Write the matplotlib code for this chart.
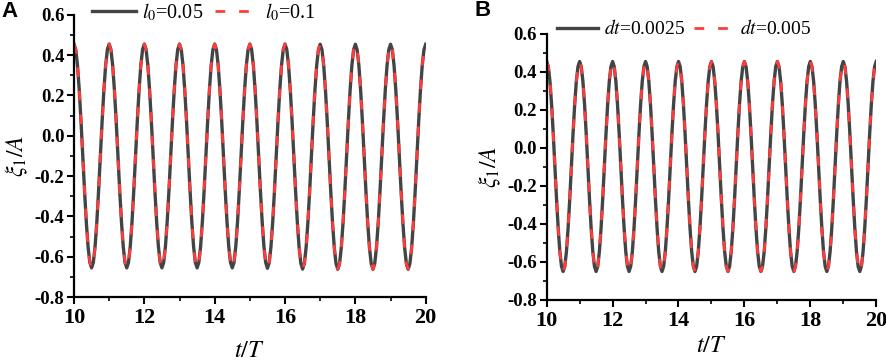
import numpy as np
import matplotlib
matplotlib.use("Agg")
import matplotlib.pyplot as plt
from matplotlib.ticker import MultipleLocator

plt.rcParams["font.family"] = "Liberation Serif"
plt.rcParams["mathtext.fontset"] = "stix"

# time axis: samples every 0.05 T from 10 T to 20 T
t = np.linspace(10, 20, 201)

xi_l005 = [
    0.455, 0.428, 0.349, 0.226, 0.072, -0.100, -0.272, -0.426, -0.549, -0.628, -0.655, -0.628, -0.549, -0.426, -0.272, -0.100, 0.072, 0.226, 0.349, 0.428,
    0.455, 0.428, 0.349, 0.226, 0.072, -0.100, -0.272, -0.426, -0.549, -0.628, -0.655, -0.628, -0.549, -0.426, -0.272, -0.100, 0.072, 0.226, 0.349, 0.428,
    0.455, 0.428, 0.349, 0.226, 0.072, -0.100, -0.272, -0.426, -0.549, -0.628, -0.655, -0.628, -0.549, -0.426, -0.272, -0.100, 0.072, 0.226, 0.349, 0.428,
    0.455, 0.428, 0.349, 0.226, 0.072, -0.100, -0.272, -0.426, -0.549, -0.628, -0.655, -0.628, -0.549, -0.426, -0.272, -0.100, 0.072, 0.226, 0.349, 0.428,
    0.455, 0.428, 0.349, 0.226, 0.072, -0.100, -0.272, -0.426, -0.549, -0.628, -0.655, -0.628, -0.549, -0.426, -0.272, -0.100, 0.072, 0.226, 0.349, 0.428,
    0.455, 0.428, 0.349, 0.226, 0.072, -0.100, -0.272, -0.426, -0.549, -0.628, -0.657, -0.630, -0.550, -0.427, -0.272, -0.100, 0.072, 0.226, 0.349, 0.428,
    0.455, 0.428, 0.349, 0.226, 0.072, -0.101, -0.274, -0.429, -0.553, -0.633, -0.661, -0.633, -0.553, -0.429, -0.274, -0.101, 0.072, 0.226, 0.349, 0.428,
    0.454, 0.427, 0.348, 0.225, 0.071, -0.102, -0.275, -0.430, -0.554, -0.634, -0.662, -0.634, -0.554, -0.430, -0.275, -0.102, 0.071, 0.225, 0.348, 0.427,
    0.454, 0.427, 0.348, 0.225, 0.071, -0.102, -0.275, -0.430, -0.554, -0.634, -0.662, -0.634, -0.554, -0.430, -0.275, -0.102, 0.071, 0.225, 0.348, 0.427,
    0.454, 0.427, 0.348, 0.225, 0.071, -0.102, -0.275, -0.430, -0.554, -0.634, -0.662, -0.634, -0.554, -0.430, -0.275, -0.102, 0.071, 0.225, 0.348, 0.427,
    0.454,
]
# l0=0.1 lies on top of l0=0.05 in the picture
xi_l01 = xi_l005

# panel B
xi_dt0025 = [
    0.455, 0.428, 0.350, 0.228, 0.074, -0.098, -0.270, -0.423, -0.545, -0.623, -0.650, -0.623, -0.545, -0.423, -0.270, -0.098, 0.074, 0.228, 0.350, 0.428,
    0.455, 0.428, 0.350, 0.228, 0.074, -0.098, -0.270, -0.423, -0.545, -0.623, -0.650, -0.623, -0.545, -0.423, -0.270, -0.098, 0.074, 0.228, 0.350, 0.428,
    0.455, 0.428, 0.350, 0.228, 0.074, -0.098, -0.270, -0.423, -0.545, -0.623, -0.650, -0.623, -0.545, -0.423, -0.270, -0.098, 0.074, 0.228, 0.350, 0.428,
    0.455, 0.428, 0.350, 0.228, 0.074, -0.098, -0.270, -0.423, -0.545, -0.623, -0.650, -0.623, -0.545, -0.423, -0.270, -0.098, 0.074, 0.228, 0.350, 0.428,
    0.455, 0.428, 0.350, 0.228, 0.074, -0.098, -0.270, -0.423, -0.545, -0.623, -0.650, -0.623, -0.545, -0.423, -0.270, -0.098, 0.074, 0.228, 0.350, 0.428,
    0.455, 0.428, 0.350, 0.228, 0.074, -0.098, -0.270, -0.423, -0.545, -0.623, -0.650, -0.623, -0.545, -0.423, -0.270, -0.098, 0.074, 0.228, 0.350, 0.428,
    0.455, 0.428, 0.350, 0.228, 0.074, -0.098, -0.270, -0.423, -0.545, -0.623, -0.650, -0.623, -0.545, -0.423, -0.270, -0.098, 0.074, 0.228, 0.350, 0.428,
    0.455, 0.428, 0.350, 0.228, 0.074, -0.098, -0.270, -0.423, -0.545, -0.623, -0.650, -0.623, -0.545, -0.423, -0.270, -0.098, 0.074, 0.228, 0.350, 0.428,
    0.455, 0.428, 0.350, 0.228, 0.074, -0.098, -0.270, -0.423, -0.545, -0.623, -0.650, -0.623, -0.545, -0.423, -0.270, -0.098, 0.074, 0.228, 0.350, 0.428,
    0.455, 0.428, 0.350, 0.228, 0.074, -0.098, -0.270, -0.423, -0.545, -0.623, -0.650, -0.623, -0.545, -0.423, -0.270, -0.098, 0.074, 0.228, 0.350, 0.428,
    0.455,
]
xi_dt005 = xi_dt0025

xticks = [10, 12, 14, 16, 18, 20]
yticks = [-0.8, -0.6, -0.4, -0.2, 0.0, 0.2, 0.4, 0.6]

gray = "#444444"
red = "#ff3b3b"

fig = plt.figure(figsize=(8.86, 3.61), dpi=100)
ax1 = fig.add_axes([0.0835, 0.177, 0.397, 0.782])
ax2 = fig.add_axes([0.617, 0.169, 0.372, 0.737])


def style(ax, xpad):
    ax.set_xlim(10, 20)
    ax.set_ylim(-0.8, 0.6)
    ax.set_xticks(xticks)
    ax.set_yticks(yticks)
    ax.set_xticklabels([str(v) for v in xticks])
    ax.set_yticklabels(["%.1f" % v for v in yticks])
    ax.xaxis.set_minor_locator(MultipleLocator(1))
    ax.yaxis.set_minor_locator(MultipleLocator(0.1))
    ax.spines["top"].set_visible(False)
    ax.spines["right"].set_visible(False)
    for s in ["left", "bottom"]:
        ax.spines[s].set_linewidth(1.6)
    ax.tick_params(which="major", direction="out", length=5, width=1.5)
    ax.tick_params(which="minor", direction="out", length=3, width=1.2)
    ax.tick_params(axis="x", labelsize=16, pad=3)
    ax.tick_params(axis="y", labelsize=13.5, pad=2)
    for lab in ax.get_xticklabels() + ax.get_yticklabels():
        lab.set_fontweight("bold")
    ax.set_xlabel(r"$t/T$", fontsize=17.5, labelpad=xpad)
    ax.set_ylabel(r"$\xi_1/A$", fontsize=17, labelpad=3)


ax1.plot(t, xi_l005, color=gray, lw=2.4, label=r"$l_0$=0.05")
ax1.plot(t, xi_l01, color=red, lw=2.0, dashes=(3.5, 5.0), label=r"$l_0$=0.1")
style(ax1, 9)
ax1.legend(loc="center left", bbox_to_anchor=(0.028, 1.01), ncol=2, frameon=False,
           fontsize=14.5, handlelength=2.2, columnspacing=0.55, handletextpad=0.3,
           borderaxespad=0)

ax2.plot(t, xi_dt0025, color=gray, lw=2.4, label=r"$dt$=0.0025")
ax2.plot(t, xi_dt005, color=red, lw=2.0, dashes=(3.5, 5.0), label=r"$dt$=0.005")
style(ax2, 3.5)
ax2.legend(loc="center left", bbox_to_anchor=(0.009, 1.019), ncol=2, frameon=False,
           fontsize=14, handlelength=2.1, columnspacing=0.45, handletextpad=0.3,
           borderaxespad=0)

fig.text(0.002, 0.953, "A", fontsize=16, fontweight="bold", family="Liberation Sans")
fig.text(0.535, 0.955, "B", fontsize=16, fontweight="bold", family="Liberation Sans")

fig.savefig("out.png", dpi=100)
